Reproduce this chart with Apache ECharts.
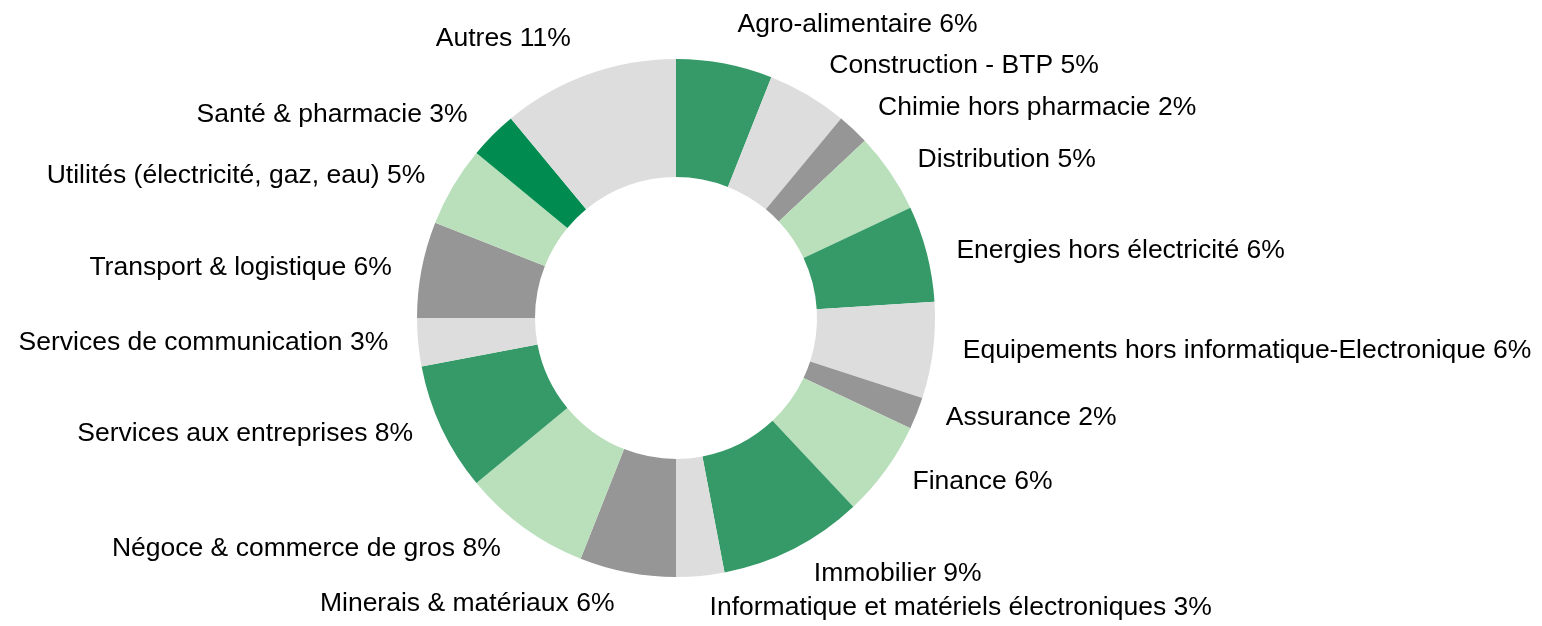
<!DOCTYPE html>
<html lang="fr">
<head>
<meta charset="utf-8">
<title>Répartition par secteur</title>
<script src="https://cdn.jsdelivr.net/npm/echarts@6/dist/echarts.min.js"></script>
<style>
  html, body { margin: 0; padding: 0; background: #ffffff; }
  #main { width: 1542px; height: 626px; }
</style>
</head>
<body>
<div id="main"></div>
<script>
// Sectors, clockwise from the top of the ring
const categories = [
  'Agro-alimentaire',
  'Construction - BTP',
  'Chimie hors pharmacie',
  'Distribution',
  'Energies hors électricité',
  'Equipements hors informatique-Electronique',
  'Assurance',
  'Finance',
  'Immobilier',
  'Informatique et matériels électroniques',
  'Minerais & matériaux',
  'Négoce & commerce de gros',
  'Services aux entreprises',
  'Services de communication',
  'Transport & logistique',
  'Utilités (électricité, gaz, eau)',
  'Santé & pharmacie',
  'Autres'
];

// Share of each sector, in percent
const shares = [6, 5, 2, 5, 6, 6, 2, 6, 9, 3, 6, 8, 8, 3, 6, 5, 3, 11];

// Palette cycled over the slices
const GREEN = '#359a68';
const LIGHT_GREY = '#dddddd';
const DARK_GREY = '#969696';
const LIGHT_GREEN = '#b9dfbb';
const DEEP_GREEN = '#008c50';
const sliceColors = [
  GREEN, LIGHT_GREY, DARK_GREY, LIGHT_GREEN,
  GREEN, LIGHT_GREY, DARK_GREY, LIGHT_GREEN,
  GREEN, LIGHT_GREY, DARK_GREY, LIGHT_GREEN,
  GREEN, LIGHT_GREY, DARK_GREY, LIGHT_GREEN,
  DEEP_GREEN, LIGHT_GREY
];

const chart = echarts.init(document.getElementById('main'), null, { renderer: 'canvas' });

// Put each label just outside its slice: pushed sideways from the rim,
// and lifted / dropped more strongly near the top and bottom of the ring.
function placeLabel(p) {
  const lay = chart.getModel().getSeriesByIndex(0).getData().getItemLayout(p.dataIndex);
  const mid = (lay.startAngle + lay.endAngle) / 2;
  const ux = Math.cos(mid);
  const uy = Math.sin(mid);
  const rimX = lay.cx + lay.r * ux;
  const rimY = lay.cy + lay.r * uy;
  const side = ux >= 0 ? 1 : -1;
  const lift = uy < 0 ? 40 : 32;
  return {
    x: rimX + side * 30 * Math.sqrt(Math.abs(ux)),
    y: rimY + lift * uy * Math.abs(uy),
    align: side > 0 ? 'left' : 'right',
    verticalAlign: 'middle'
  };
}

chart.setOption({
  animation: false,
  backgroundColor: '#ffffff',
  series: [{
    type: 'pie',
    center: [676, 318],
    radius: [141, 259],
    startAngle: 90,
    clockwise: true,
    avoidLabelOverlap: false,
    itemStyle: { borderWidth: 0 },
    label: {
      show: true,
      position: 'outside',
      formatter: '{b} {c}%',
      color: '#000000',
      fontFamily: 'Liberation Sans, Arial, sans-serif',
      fontSize: 26.5
    },
    labelLine: { show: false },
    labelLayout: placeLabel,
    emphasis: { disabled: true },
    data: categories.map((name, i) => ({
      name: name,
      value: shares[i],
      itemStyle: { color: sliceColors[i] }
    }))
  }]
});
</script>
</body>
</html>
